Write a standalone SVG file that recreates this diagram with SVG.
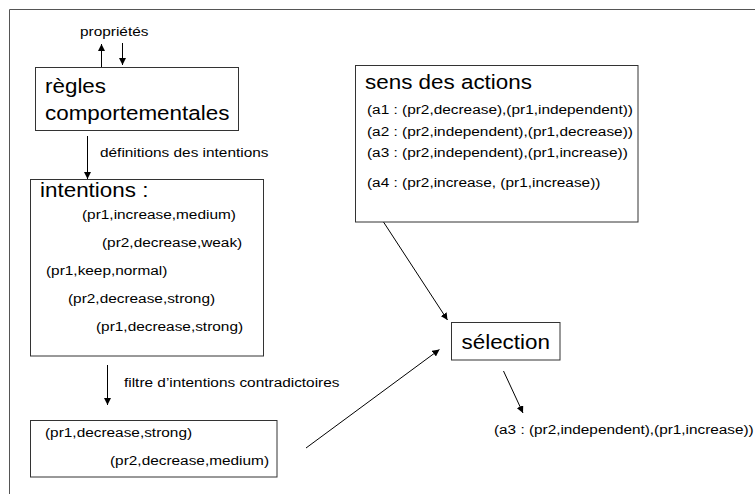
<svg xmlns="http://www.w3.org/2000/svg" width="755" height="494" viewBox="0 0 755 494">
<style>
text{font-family:"Liberation Sans",Arial,sans-serif;fill:#000}
.s{font-size:13.5px}
.b{font-size:19.5px}
.box{fill:#fff;stroke:#333;stroke-width:1}
.ln{stroke:#000;stroke-width:1;fill:none}
.frame{stroke:#555;stroke-width:1;fill:none}
</style>
<defs>
<marker id="ah" viewBox="0 0 10 10" refX="10" refY="5" markerWidth="7" markerHeight="7" markerUnits="userSpaceOnUse" orient="auto">
<path d="M0,0 L10,5 L0,10 z" fill="#000"/>
</marker>
</defs>
<rect width="755" height="494" fill="#fff"/>
<path class="frame" d="M9.5,494 V9.5 H755"/>

<g id="connectors">
<line class="ln" x1="101.5" y1="67" x2="101.5" y2="44" marker-end="url(#ah)"/>
<line class="ln" x1="122.5" y1="43" x2="122.5" y2="65" marker-end="url(#ah)"/>
<text class="s" transform="matrix(1.14 0 0 1 80 36)">propriétés</text>
<line class="ln" x1="87.5" y1="136" x2="87.5" y2="179" marker-end="url(#ah)"/>
<text class="s" transform="matrix(1.14 0 0 1 100 157)">définitions des intentions</text>
<line class="ln" x1="107.5" y1="365" x2="107.5" y2="405" marker-end="url(#ah)"/>
<text class="s" transform="matrix(1.14 0 0 1 124 387)">filtre d’intentions contradictoires</text>
<line class="ln" x1="383.5" y1="222" x2="447.5" y2="320" marker-end="url(#ah)"/>
<line class="ln" x1="306" y1="448" x2="439.5" y2="349.5" marker-end="url(#ah)"/>
<line class="ln" x1="503.5" y1="371" x2="523" y2="413" marker-end="url(#ah)"/>
</g>

<g id="regles">
<rect class="box" x="35.5" y="67.5" width="203" height="63"/>
<text class="b" transform="matrix(1.15 0 0 1 45 93)">règles</text>
<text class="b" transform="matrix(1.15 0 0 1 45 119.5)">comportementales</text>
</g>

<g id="intentions">
<rect class="box" x="30.5" y="179.5" width="233" height="176.5"/>
<text class="b" transform="matrix(1.15 0 0 1 40 197)">intentions :</text>
<text class="s" transform="matrix(1.14 0 0 1 82 218.5)">(pr1,increase,medium)</text>
<text class="s" transform="matrix(1.14 0 0 1 102 247)">(pr2,decrease,weak)</text>
<text class="s" transform="matrix(1.14 0 0 1 46 274.5)">(pr1,keep,normal)</text>
<text class="s" transform="matrix(1.14 0 0 1 68 303)">(pr2,decrease,strong)</text>
<text class="s" transform="matrix(1.14 0 0 1 96 331)">(pr1,decrease,strong)</text>
</g>

<g id="filtre">
<rect class="box" x="30.5" y="420.5" width="246.5" height="56.5"/>
<text class="s" transform="matrix(1.14 0 0 1 45 436.5)">(pr1,decrease,strong)</text>
<text class="s" transform="matrix(1.14 0 0 1 110 464.5)">(pr2,decrease,medium)</text>
</g>

<g id="sens">
<rect class="box" x="355.5" y="65.5" width="282.5" height="156.5"/>
<text class="b" transform="matrix(1.15 0 0 1 365 89)">sens des actions</text>
<text class="s" transform="matrix(1.14 0 0 1 367 114)">(a1 : (pr2,decrease),(pr1,independent))</text>
<text class="s" transform="matrix(1.14 0 0 1 367 135.5)">(a2 : (pr2,independent),(pr1,decrease))</text>
<text class="s" transform="matrix(1.14 0 0 1 367 157)">(a3 : (pr2,independent),(pr1,increase))</text>
<text class="s" transform="matrix(1.14 0 0 1 367 187)">(a4 : (pr2,increase, (pr1,increase))</text>
</g>

<g id="selection">
<rect class="box" x="451.5" y="322.5" width="108.5" height="37.5"/>
<text class="b" transform="matrix(1.15 0 0 1 461.5 348.5)">sélection</text>
</g>

<g id="resultat">
<text class="s" transform="matrix(1.135 0 0 1 494 433.5)">(a3 : (pr2,independent),(pr1,increase))</text>
</g>
</svg>
